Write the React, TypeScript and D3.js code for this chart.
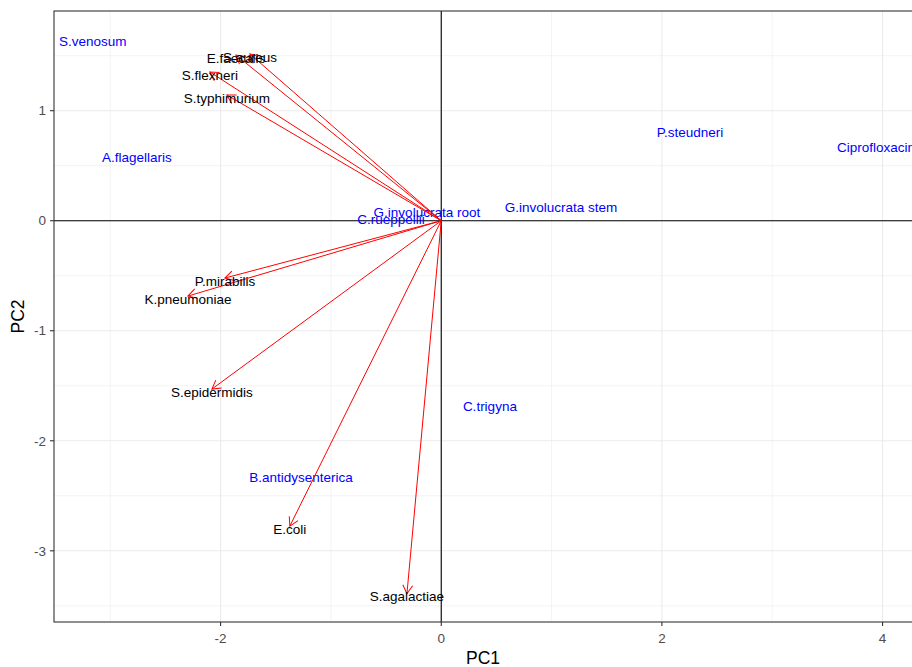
import React, { useEffect, useRef } from "react";
import * as d3 from "d3";

// loadings (arrows)
const varNames = ["E.faecalis", "S.aureus", "S.flexneri", "S.typhimurium", "P.mirabilis", "K.pneumoniae", "S.epidermidis", "E.coli", "S.agalactiae"];
const varPC1 = [-1.861, -1.734, -2.098, -1.943, -1.961, -2.296, -2.079, -1.372, -0.311];
const varPC2 = [1.506, 1.515, 1.352, 1.143, -0.521, -0.685, -1.53, -2.775, -3.39];

// scores (blue labels)
const obsNames = ["S.venosum", "A.flagellaris", "G.involucrata root", "C.rueppellii", "G.involucrata stem", "P.steudneri", "Ciprofloxacin", "C.trigyna", "B.antidysenterica"];
const obsPC1 = [-3.158, -2.759, -0.13, -0.456, 1.085, 2.254, 3.941, 0.441, -1.272];
const obsPC2 = [1.634, 0.579, 0.079, 0.015, 0.125, 0.806, 0.67, -1.684, -2.33];

const xTicks = [-2, 0, 2, 4];
const yTicks = [-3, -2, -1, 0, 1];

const W = 912, H = 667;
const FONT = "'Liberation Sans', Arial, sans-serif";

const App = () => {
  const ref = useRef<SVGSVGElement>(null);

  useEffect(() => {
    const svg = d3.select(ref.current);
    svg.selectAll("*").remove();

    const left = 54, right = 913, top = 11, bottom = 622;
    const x = d3.scaleLinear().domain([-3.51, 4.276]).range([left, right]);
    const y = d3.scaleLinear().domain([-3.647, 1.906]).range([bottom, top]);

    svg.append("rect").attr("width", W).attr("height", H).attr("fill", "white");

    const defs = svg.append("defs");
    defs.append("clipPath").attr("id", "panel")
      .append("rect").attr("x", left).attr("y", top).attr("width", right - left).attr("height", bottom - top);
    defs.append("marker")
      .attr("id", "head")
      .attr("viewBox", "-10 -6 12 12")
      .attr("refX", 0).attr("refY", 0)
      .attr("markerWidth", 12).attr("markerHeight", 12)
      .attr("markerUnits", "userSpaceOnUse")
      .attr("orient", "auto")
      .append("path")
      .attr("d", "M-8.5,-4.9L0,0L-8.5,4.9")
      .attr("fill", "none").attr("stroke", "red").attr("stroke-width", 1);

    const panel = svg.append("g").attr("clip-path", "url(#panel)");

    // minor grid
    const xMinor = [-3, -1, 1, 3];
    const yMinor = [-3.5, -2.5, -1.5, -0.5, 0.5, 1.5];
    panel.selectAll(".xmin").data(xMinor).enter().append("line")
      .attr("x1", d => x(d)).attr("x2", d => x(d)).attr("y1", top).attr("y2", bottom)
      .attr("stroke", "#ebebeb").attr("stroke-width", 0.6);
    panel.selectAll(".ymin").data(yMinor).enter().append("line")
      .attr("y1", d => y(d)).attr("y2", d => y(d)).attr("x1", left).attr("x2", right)
      .attr("stroke", "#ebebeb").attr("stroke-width", 0.6);
    // major grid
    panel.selectAll(".xmaj").data(xTicks).enter().append("line")
      .attr("x1", d => x(d)).attr("x2", d => x(d)).attr("y1", top).attr("y2", bottom)
      .attr("stroke", "#ebebeb").attr("stroke-width", 1.1);
    panel.selectAll(".ymaj").data(yTicks).enter().append("line")
      .attr("y1", d => y(d)).attr("y2", d => y(d)).attr("x1", left).attr("x2", right)
      .attr("stroke", "#ebebeb").attr("stroke-width", 1.1);

    // zero lines
    panel.append("line").attr("x1", x(0)).attr("x2", x(0)).attr("y1", top).attr("y2", bottom)
      .attr("stroke", "black").attr("stroke-width", 1.1);
    panel.append("line").attr("y1", y(0)).attr("y2", y(0)).attr("x1", left).attr("x2", right)
      .attr("stroke", "black").attr("stroke-width", 1.1);

    // blue observation labels
    panel.selectAll(".obs").data(obsNames).enter().append("text")
      .attr("x", (d, i) => x(obsPC1[i]))
      .attr("y", (d, i) => y(obsPC2[i]))
      .attr("dy", "0.35em")
      .attr("text-anchor", "middle")
      .attr("font-family", FONT).attr("font-size", 13.5)
      .attr("fill", "blue")
      .text(d => d);

    // arrows
    panel.selectAll(".arr").data(varNames).enter().append("line")
      .attr("x1", x(0)).attr("y1", y(0))
      .attr("x2", (d, i) => x(varPC1[i]))
      .attr("y2", (d, i) => y(varPC2[i]))
      .attr("stroke", "red").attr("stroke-width", 1)
      .attr("marker-end", "url(#head)");

    panel.selectAll(".var").data(varNames).enter().append("text")
      .attr("x", (d, i) => x(varPC1[i]))
      .attr("y", (d, i) => y(varPC2[i]) + 3)
      .attr("dy", "0.35em")
      .attr("text-anchor", "middle")
      .attr("font-family", FONT).attr("font-size", 13.5)
      .attr("fill", "black")
      .text(d => d);

    // panel border
    svg.append("rect").attr("x", left).attr("y", top).attr("width", right - left).attr("height", bottom - top)
      .attr("fill", "none").attr("stroke", "#333333").attr("stroke-width", 1.1);

    // axes
    const xAxis = svg.append("g");
    xAxis.selectAll("line").data(xTicks).enter().append("line")
      .attr("x1", d => x(d)).attr("x2", d => x(d)).attr("y1", bottom).attr("y2", bottom + 4)
      .attr("stroke", "#333333").attr("stroke-width", 1.1);
    xAxis.selectAll("text").data(xTicks).enter().append("text")
      .attr("x", d => x(d)).attr("y", bottom + 21)
      .attr("text-anchor", "middle")
      .attr("font-family", FONT).attr("font-size", 13.5)
      .attr("fill", "#4d4d4d")
      .text(d => String(d));

    const yAxis = svg.append("g");
    yAxis.selectAll("line").data(yTicks).enter().append("line")
      .attr("y1", d => y(d)).attr("y2", d => y(d)).attr("x1", left - 4).attr("x2", left)
      .attr("stroke", "#333333").attr("stroke-width", 1.1);
    yAxis.selectAll("text").data(yTicks).enter().append("text")
      .attr("x", left - 8).attr("y", d => y(d))
      .attr("dy", "0.35em")
      .attr("text-anchor", "end")
      .attr("font-family", FONT).attr("font-size", 13.5)
      .attr("fill", "#4d4d4d")
      .text(d => String(d));

    svg.append("text")
      .attr("x", (54 + 912) / 2).attr("y", 664)
      .attr("text-anchor", "middle")
      .attr("font-family", FONT).attr("font-size", 17.5)
      .attr("fill", "black")
      .text("PC1");

    svg.append("text")
      .attr("transform", `translate(24,${(top + bottom) / 2}) rotate(-90)`)
      .attr("text-anchor", "middle")
      .attr("font-family", FONT).attr("font-size", 17.5)
      .attr("fill", "black")
      .text("PC2");
  }, []);

  return (
    <div style={{ position: "fixed", left: 0, top: 0 }}>
      <svg ref={ref} width={W} height={H} style={{ display: "block" }}></svg>
    </div>
  );
};

export default App;
